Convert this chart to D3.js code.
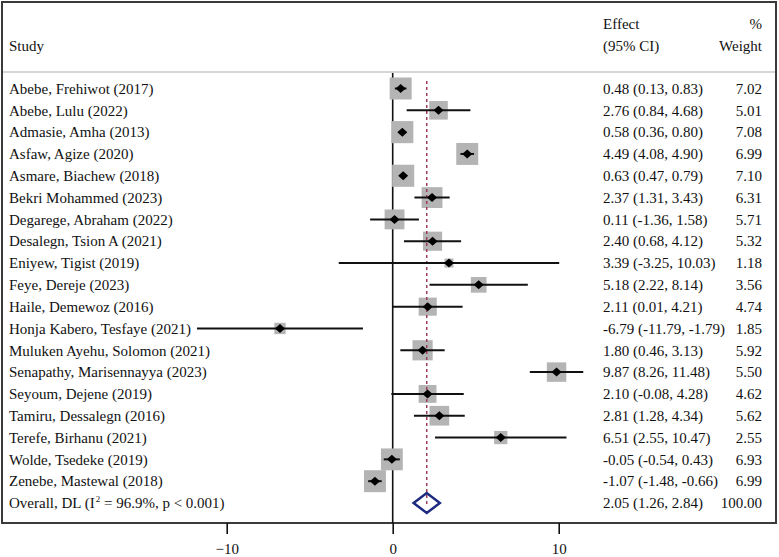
<!DOCTYPE html>
<html>
<head>
<meta charset="utf-8">
<script src="https://cdn.jsdelivr.net/npm/d3@7"></script>
<style>
  body { margin: 0; background: #fff; }
  svg text { font-family: "Liberation Serif", "Times New Roman", serif; fill: #111; }
</style>
</head>
<body>
<div id="forest"></div>
<script>
// Study data
const studies = [
  "Abebe, Frehiwot (2017)", "Abebe, Lulu (2022)", "Admasie, Amha (2013)", "Asfaw, Agize (2020)",
  "Asmare, Biachew (2018)", "Bekri Mohammed (2023)", "Degarege, Abraham (2022)", "Desalegn, Tsion A (2021)",
  "Eniyew, Tigist (2019)", "Feye, Dereje (2023)", "Haile, Demewoz (2016)", "Honja Kabero, Tesfaye (2021)",
  "Muluken Ayehu, Solomon (2021)", "Senapathy, Marisennayya (2023)", "Seyoum, Dejene (2019)",
  "Tamiru, Dessalegn (2016)", "Terefe, Birhanu (2021)", "Wolde, Tsedeke (2019)", "Zenebe, Mastewal (2018)"
];
const effects = [0.48, 2.76, 0.58, 4.49, 0.63, 2.37, 0.11, 2.40, 3.39, 5.18, 2.11, -6.79, 1.80, 9.87, 2.10, 2.81, 6.51, -0.05, -1.07];
const lower = [0.13, 0.84, 0.36, 4.08, 0.47, 1.31, -1.36, 0.68, -3.25, 2.22, 0.01, -11.79, 0.46, 8.26, -0.08, 1.28, 2.55, -0.54, -1.48];
const upper = [0.83, 4.68, 0.80, 4.90, 0.79, 3.43, 1.58, 4.12, 10.03, 8.14, 4.21, -1.79, 3.13, 11.48, 4.28, 4.34, 10.47, 0.43, -0.66];
const weights = [7.02, 5.01, 7.08, 6.99, 7.10, 6.31, 5.71, 5.32, 1.18, 3.56, 4.74, 1.85, 5.92, 5.50, 4.62, 5.62, 2.55, 6.93, 6.99];
const overall = { effect: 2.05, lower: 1.26, upper: 2.84, weight: 100.00 };
const xTicks = [-10, 0, 10];

const W = 779, H = 557;
const box = { left: 2, right: 776, top: 2, bottom: 523 };
const sepY = 72;
const fs = 15;

const svg = d3.select("#forest").append("svg")
  .attr("width", W).attr("height", H);

const x = d3.scaleLinear().domain([-10, 10]).range([226.7, 558.7]);
const rows = d3.range(studies.length + 1);
const y = d3.scalePoint().domain(rows).range([88.5, 503]);

const data = studies.map((s, i) => ({
  study: s, es: effects[i], lo: lower[i], hi: upper[i], w: weights[i], row: i
}));

const fmt = v => v.toFixed(2);

// Outer frame and header separator
svg.append("rect")
  .attr("x", box.left).attr("y", box.top)
  .attr("width", box.right - box.left).attr("height", box.bottom - box.top)
  .attr("fill", "none").attr("stroke", "#3a3a3a").attr("stroke-width", 2);

svg.append("line")
  .attr("x1", box.left + 1).attr("x2", box.right - 1)
  .attr("y1", sepY).attr("y2", sepY)
  .attr("stroke", "#c8c8c8").attr("stroke-width", 1.5);

// Headers
svg.append("text").attr("x", 9).attr("y", 51).attr("font-size", fs).text("Study");
svg.append("text").attr("x", 603).attr("y", 29).attr("font-size", fs).text("Effect");
svg.append("text").attr("x", 603).attr("y", 51).attr("font-size", fs).text("(95% CI)");
svg.append("text").attr("x", 762).attr("y", 29).attr("font-size", fs).attr("text-anchor", "end").text("%");
svg.append("text").attr("x", 762).attr("y", 51).attr("font-size", fs).attr("text-anchor", "end").text("Weight");

// Null line
svg.append("line")
  .attr("x1", x(0)).attr("x2", x(0))
  .attr("y1", sepY + 1).attr("y2", box.bottom)
  .attr("stroke", "#111").attr("stroke-width", 1.6);

// Weight squares
const k = 8.3;
svg.selectAll(".wbox").data(data).enter().append("rect")
  .attr("class", "wbox")
  .attr("x", d => x(d.es) - k * Math.sqrt(d.w) / 2)
  .attr("y", d => y(d.row) - k * Math.sqrt(d.w) / 2)
  .attr("width", d => k * Math.sqrt(d.w))
  .attr("height", d => k * Math.sqrt(d.w))
  .attr("fill", "#b4b4b4");

// Overall dashed line
svg.append("line")
  .attr("x1", x(overall.effect)).attr("x2", x(overall.effect))
  .attr("y1", 81).attr("y2", y(rows.length - 1) + 4)
  .attr("stroke", "#9b3d5a").attr("stroke-width", 1.5)
  .attr("stroke-dasharray", "3,3");

// Confidence intervals
svg.selectAll(".ci").data(data).enter().append("line")
  .attr("class", "ci")
  .attr("x1", d => x(d.lo)).attr("x2", d => x(d.hi))
  .attr("y1", d => y(d.row)).attr("y2", d => y(d.row))
  .attr("stroke", "#111").attr("stroke-width", 2);

// Point estimates
svg.selectAll(".pt").data(data).enter().append("path")
  .attr("class", "pt")
  .attr("d", d => {
    const cx = x(d.es), cy = y(d.row);
    return `M${cx - 5},${cy}L${cx},${cy - 4.5}L${cx + 5},${cy}L${cx},${cy + 4.5}Z`;
  })
  .attr("fill", "#000");

// Overall diamond
const oy = y(rows.length - 1);
svg.append("path")
  .attr("d", `M${x(overall.lower)},${oy}L${x(overall.effect)},${oy - 10}L${x(overall.upper)},${oy}L${x(overall.effect)},${oy + 10}Z`)
  .attr("fill", "none").attr("stroke", "#1c2a80").attr("stroke-width", 2.5);

// Row text
const txt = svg.append("g").attr("font-size", fs);
txt.selectAll(".lab").data(data).enter().append("text")
  .attr("class", "lab")
  .attr("x", 9).attr("y", d => y(d.row)).attr("dy", "0.35em")
  .text(d => d.study);
txt.selectAll(".eff").data(data).enter().append("text")
  .attr("class", "eff")
  .attr("x", 603).attr("y", d => y(d.row)).attr("dy", "0.35em")
  .text(d => `${fmt(d.es)} (${fmt(d.lo)}, ${fmt(d.hi)})`);
txt.selectAll(".wt").data(data).enter().append("text")
  .attr("x", 762).attr("y", d => y(d.row)).attr("dy", "0.35em")
  .attr("text-anchor", "end")
  .text(d => fmt(d.w));

const ol = txt.append("text").attr("x", 9).attr("y", oy).attr("dy", "0.35em");
ol.append("tspan").text("Overall, DL (I");
ol.append("tspan").attr("font-size", 9).attr("dx", 1).attr("dy", "-0.7em").text("2");
ol.append("tspan").attr("dy", "0.4em").text(" = 96.9%, p < 0.001)");
txt.append("text").attr("x", 603).attr("y", oy).attr("dy", "0.35em")
  .text(`${fmt(overall.effect)} (${fmt(overall.lower)}, ${fmt(overall.upper)})`);
txt.append("text").attr("x", 762).attr("y", oy).attr("dy", "0.35em")
  .attr("text-anchor", "end").text(fmt(overall.weight));

// X axis
const axis = svg.append("g")
  .attr("transform", `translate(0,${box.bottom})`)
  .call(d3.axisBottom(x).tickValues(xTicks).tickSize(11).tickPadding(9).tickFormat(d3.format("d")));
axis.select(".domain").remove();
axis.selectAll(".tick line").attr("stroke", "#111").attr("stroke-width", 1.6);
axis.selectAll(".tick text").attr("font-size", fs).attr("font-family", "Liberation Serif, serif").attr("fill", "#111");
</script>
</body>
</html>
